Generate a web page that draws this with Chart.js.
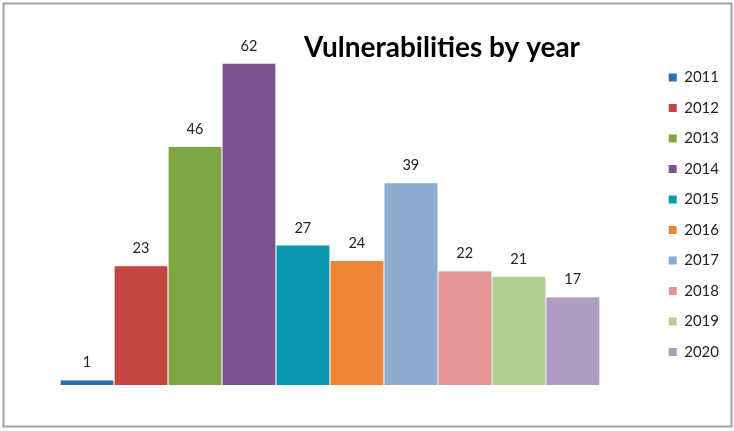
<!DOCTYPE html>
<html>
<head>
<meta charset="utf-8">
<script src="https://cdn.jsdelivr.net/npm/chart.js@4.4.1/dist/chart.umd.min.js"></script>
<style>
  html, body { margin: 0; padding: 0; background: #fff; }
  #wrap { width: 734px; height: 431px; }
</style>
</head>
<body>
<div id="wrap"><canvas id="chart" width="734" height="431"></canvas></div>
<script>
const years = ['2011', '2012', '2013', '2014', '2015', '2016', '2017', '2018', '2019', '2020'];
const counts = [1, 23, 46, 62, 27, 24, 39, 22, 21, 17];
const barColors = ['#2c6fad', '#c44441', '#7ea642', '#7b548f', '#0a98b0', '#f08537', '#8aaccf', '#e59394', '#b3d093', '#b09cc3'];
const chartTitle = 'Vulnerabilities by year';

// frame, title and value labels drawn on the canvas
const decorations = {
  id: 'decorations',
  beforeDraw(chart) {
    const ctx = chart.ctx;
    ctx.save();
    ctx.strokeStyle = '#a0a0a0';
    ctx.lineWidth = 2;
    ctx.strokeRect(3.5, 3.5, 728, 423);
    ctx.restore();
  },
  beforeDatasetsDraw(chart) {
    const ctx = chart.ctx;
    ctx.save();
    ctx.shadowColor = 'rgba(0, 0, 0, 0.22)';
    ctx.shadowBlur = 3;
    ctx.shadowOffsetX = 2;
    ctx.shadowOffsetY = 1;
  },
  afterDatasetsDraw(chart) {
    const ctx = chart.ctx;
    ctx.restore();
    ctx.save();
    ctx.font = '14.5px Lato';
    ctx.fillStyle = '#222';
    ctx.textAlign = 'center';
    ctx.textBaseline = 'middle';
    chart.getDatasetMeta(0).data.forEach((bar, i) => {
      ctx.fillText(String(counts[i]), bar.x, bar.y - 17);
    });
    ctx.restore();
  },
  afterDraw(chart) {
    const ctx = chart.ctx;
    ctx.save();
    ctx.font = 'bold 28px Lato';
    ctx.fillStyle = '#000';
    ctx.textAlign = 'center';
    ctx.textBaseline = 'alphabetic';
    ctx.fillText(chartTitle, 442, 57, 280);
    ctx.restore();
  }
};

new Chart(document.getElementById('chart'), {
  type: 'bar',
  data: {
    labels: years,
    datasets: [{
      data: counts,
      backgroundColor: barColors,
      borderColor: 'rgba(255, 255, 255, 0.55)',
      borderWidth: 1,
      categoryPercentage: 1,
      barPercentage: 1
    }]
  },
  options: {
    responsive: false,
    animation: false,
    layout: {
      padding: { left: 60, top: 44.5, bottom: 46, right: 5 }
    },
    scales: {
      x: { display: false },
      y: {
        position: 'right',
        min: 0,
        max: 65.6,
        ticks: { display: false },
        grid: { display: false },
        border: { display: false },
        afterFit: (scale) => { scale.width = 53.5; }
      }
    },
    plugins: {
      title: { display: false },
      tooltip: { enabled: false },
      legend: {
        position: 'right',
        labels: {
          font: { family: 'Lato', size: 15 },
          color: '#222',
          boxWidth: 8,
          boxHeight: 8,
          padding: 15.5,
          generateLabels: (chart) => years.map((y, i) => ({
            text: y,
            fillStyle: barColors[i],
            strokeStyle: barColors[i],
            lineWidth: 0,
            fontColor: '#222',
            hidden: false,
            index: i
          }))
        }
      }
    }
  },
  plugins: [decorations]
});
</script>
</body>
</html>
